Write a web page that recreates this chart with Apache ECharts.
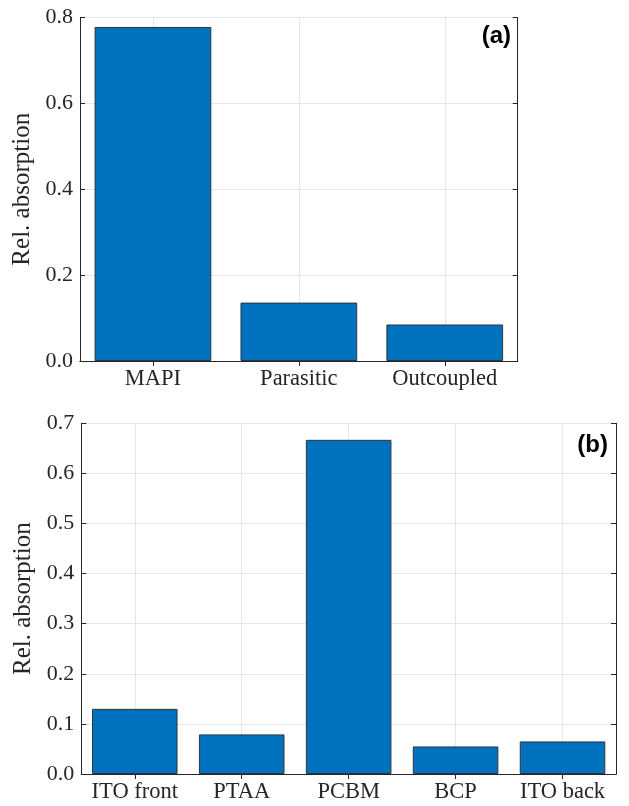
<!DOCTYPE html>
<html>
<head>
<meta charset="utf-8">
<script src="https://cdn.jsdelivr.net/npm/echarts@6/dist/echarts.min.js"></script>
<style>html,body{margin:0;padding:0;background:#fff;}#c{width:629px;height:806px;}</style>
</head>
<body>
<div id="c"></div>
<script>
const catsA = ['MAPI', 'Parasitic', 'Outcoupled'];
const valsA = [0.778, 0.136, 0.085];
const catsB = ['ITO front', 'PTAA', 'PCBM', 'BCP', 'ITO back'];
const valsB = [0.130, 0.079, 0.667, 0.055, 0.065];
const yTitle = 'Rel. absorption';
const panelA = '(a)';
const panelB = '(b)';

const ink = '#262626';
const serif = '"Liberation Serif", "Times New Roman", serif';
const gridCol = '#e6e6e6';

function xAxes(gi, cats, top) {
  return {
    type: 'category', data: cats, gridIndex: gi,
    position: top ? 'top' : 'bottom',
    axisLine: { show: true, lineStyle: { color: ink, width: 1 } },
    axisTick: { show: true, inside: true, alignWithLabel: true, length: 5, lineStyle: { color: ink } },
    axisLabel: { show: !top, color: ink, fontFamily: serif, fontSize: 22.5, margin: 7, interval: 0 },
    splitLine: { show: !top, alignWithLabel: true, lineStyle: { color: gridCol, width: 1 } }
  };
}
function yAxes(gi, max, interval, right) {
  return {
    type: 'value', gridIndex: gi, min: 0, max: max, interval: interval,
    position: right ? 'right' : 'left',
    name: right ? '' : yTitle, nameLocation: 'middle', nameGap: 38,
    nameTextStyle: { color: ink, fontFamily: serif, fontSize: 25 },
    axisLine: { show: true, lineStyle: { color: ink, width: 1 } },
    axisTick: { show: true, inside: true, length: 5, lineStyle: { color: ink } },
    axisLabel: { show: !right, color: ink, fontFamily: serif, fontSize: 22, margin: 7,
      formatter: v => v.toFixed(1) },
    splitLine: { show: !right, lineStyle: { color: gridCol, width: 1 } }
  };
}

const chart = echarts.init(document.getElementById('c'), null, { renderer: 'canvas' });
chart.setOption({
  animation: false,
  backgroundColor: '#fff',
  grid: [
    { left: 80, right: 111.3, top: 17.5, height: 343.5 },
    { left: 81.3, right: 13, top: 423.3, height: 350.7 }
  ],
  xAxis: [xAxes(0, catsA, false), xAxes(0, catsA, true), xAxes(1, catsB, false), xAxes(1, catsB, true)],
  yAxis: [yAxes(0, 0.8, 0.2, false), yAxes(0, 0.8, 0.2, true), yAxes(1, 0.7, 0.1, false), yAxes(1, 0.7, 0.1, true)],
  series: [
    { type: 'bar', xAxisIndex: 0, yAxisIndex: 0, data: valsA, barCategoryGap: '20%',
      itemStyle: { color: '#0072BD', borderColor: '#2a3540', borderWidth: 1 } },
    { type: 'bar', xAxisIndex: 2, yAxisIndex: 2, data: valsB, barCategoryGap: '20%',
      itemStyle: { color: '#0072BD', borderColor: '#2a3540', borderWidth: 1 } }
  ],
  graphic: [
    { type: 'text', right: 629 - 511, top: 24, style: { text: panelA, fill: '#000',
      font: 'bold 24px "Liberation Sans", Arial, sans-serif' } },
    { type: 'text', right: 629 - 608, top: 433, style: { text: panelB, fill: '#000',
      font: 'bold 24px "Liberation Sans", Arial, sans-serif' } }
  ]
});
</script>
</body>
</html>
